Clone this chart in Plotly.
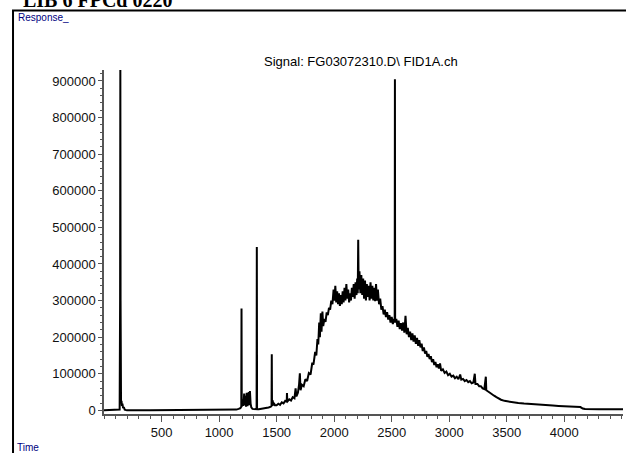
import plotly.graph_objects as go

# Retention time (x) and detector response (y)
time_pts = [
    0, 60, 120, 136, 140, 142, 144, 148, 152, 156, 160, 166, 172, 180, 200, 400, 600, 800, 1000,
    1100, 1150, 1170, 1185, 1193, 1195, 1197, 1205, 1212, 1218, 1222, 1228, 1234, 1240, 1246,
    1252, 1258, 1263, 1268, 1274, 1280, 1290, 1310, 1326, 1328, 1330, 1345, 1370, 1400, 1430,
    1450, 1456, 1458, 1460, 1466, 1470, 1476, 1485,
    1500, 1515, 1530, 1545, 1560, 1575, 1588, 1590, 1593, 1610, 1625, 1640, 1655, 1665, 1672,
    1685, 1695, 1702, 1708, 1720, 1735, 1750, 1765, 1780, 1795, 1810, 1820, 1835, 1845, 1855,
    1862, 1870, 1876, 1884, 1890, 1898, 1905, 1915, 1925, 1935, 1945, 1955, 1965, 1975, 1985,
    1995, 2003, 2010, 2018, 2026, 2034, 2042, 2050, 2058, 2066, 2074, 2082, 2090, 2098, 2106,
    2114, 2122, 2130, 2138, 2146, 2154, 2162, 2170, 2178, 2186, 2194, 2200, 2205, 2209, 2213,
    2220, 2228, 2236, 2244, 2252, 2260, 2268, 2276, 2284, 2292, 2300, 2308, 2316, 2324, 2332,
    2340, 2348, 2356, 2364, 2372, 2380, 2390, 2400, 2410, 2420, 2430, 2440, 2450, 2460, 2470,
    2480, 2490, 2500, 2510, 2520, 2526, 2528, 2530, 2540, 2550, 2560, 2570, 2580, 2590, 2600,
    2610, 2620, 2630, 2640, 2650, 2660, 2670, 2680, 2690, 2700, 2710, 2720, 2730, 2740, 2750,
    2760, 2770, 2780, 2790, 2800, 2810, 2820, 2830, 2840, 2850, 2860, 2870, 2880, 2890, 2900,
    2910, 2920, 2930, 2945, 2960, 2975, 2990, 3005, 3020, 3035, 3050, 3065, 3080, 3095, 3105,
    3120, 3135, 3150, 3165, 3180, 3195, 3210, 3222, 3228, 3245, 3260, 3275, 3290, 3305, 3318,
    3322, 3335, 3350, 3370, 3390, 3410, 3430, 3450, 3480, 3510, 3550, 3600, 3650, 3700, 3750,
    3800, 3850, 3900, 3950, 4000, 4050, 4100, 4140, 4160, 4180, 4300, 4400, 4510,
]
response = [
    0, 0, 0, 2000, 300000, 950000, 300000, 20000, 26000, 12000, 18000, 6000, 9000, 2000, 0, 0, 0, 0, 0,
    1000, 2000, 4000, 6000, 10000, 278000, 10000, 30000, 12000, 46000, 15000, 40000, 10000, 48000, 12000,
    20000, 50000, 14000, 53000, 18000, 8000, 4000, 3000, 3000, 446000, 3000, 3000, 4000, 5000, 8000,
    10000, 12000, 153000, 12000, 27000, 13000, 20000, 14000,
    14000, 18000, 15000, 22000, 19000, 26000, 24000, 47000, 24000, 30000, 27000, 36000, 33000, 60000, 38000,
    48000, 70000, 101000, 55000, 70000, 66000, 85000, 80000, 102000, 98000, 130000, 125000, 160000, 150000, 195000,
    180000, 240000, 200000, 265000, 215000, 270000, 230000, 250000, 242000, 268000, 260000, 280000, 275000, 300000, 290000,
    330000, 300000, 340000, 295000, 325000, 290000, 320000, 285000, 315000, 290000, 325000, 295000, 335000, 300000, 345000,
    305000, 330000, 295000, 320000, 300000, 335000, 310000, 345000, 305000, 350000, 315000, 360000, 320000, 466000, 330000,
    380000, 320000, 370000, 315000, 360000, 305000, 355000, 300000, 345000, 310000, 340000, 300000, 350000, 305000, 340000,
    300000, 335000, 298000, 345000, 300000, 330000, 290000, 305000, 275000, 285000, 262000, 275000, 255000, 268000, 248000,
    260000, 240000, 255000, 236000, 250000, 240000, 905000, 240000, 250000, 228000, 245000, 222000, 238000, 218000, 240000,
    212000, 258000, 208000, 225000, 200000, 215000, 192000, 210000, 188000, 205000, 182000, 198000, 176000, 192000, 172000,
    182000, 162000, 172000, 155000, 162000, 146000, 154000, 140000, 148000, 132000, 140000, 124000, 132000, 118000, 126000,
    114000, 128000, 108000, 112000, 102000, 106000, 96000, 100000, 92000, 95000, 88000, 92000, 85000, 98000, 84000,
    86000, 80000, 83000, 77000, 80000, 74000, 76000, 100000, 72000, 72000, 66000, 66000, 60000, 58000, 92000,
    55000, 52000, 48000, 44000, 40000, 36000, 32000, 29000, 26000, 24000, 22000, 20000, 18500, 17000, 16000,
    15000, 14000, 13000, 12000, 11500, 10500, 9500, 9000, 5000, 3500, 3000, 3000, 3000,
]

x_ticks = [500, 1000, 1500, 2000, 2500, 3000, 3500, 4000]
y_ticks = [0, 100000, 200000, 300000, 400000, 500000, 600000, 700000, 800000, 900000]

fig = go.Figure()
fig.add_trace(go.Scatter(
    x=time_pts, y=response, mode="lines",
    line=dict(color="black", width=2), hoverinfo="skip", showlegend=False,
))

axis_font = dict(family="Liberation Sans, Arial, sans-serif", size=13, color="#111")

fig.update_layout(
    width=626, height=453,
    margin=dict(l=104, r=3, t=70, b=39),
    paper_bgcolor="white", plot_bgcolor="white",
    xaxis=dict(
        range=[0, 4510], tickvals=x_ticks, ticktext=[str(v) for v in x_ticks],
        ticks="outside", ticklen=6, tickcolor="#555", tickwidth=1,
        minor=dict(dtick=100, tick0=0, ticks="outside", ticklen=3, tickcolor="#555"),
        showline=True, linecolor="#555", linewidth=1.5, showgrid=False, zeroline=False,
        tickfont=axis_font,
    ),
    yaxis=dict(
        range=[-10000, 930000], tickvals=y_ticks, ticktext=[str(v) for v in y_ticks],
        ticks="outside", ticklen=4, tickcolor="#555", tickwidth=1,
        minor=dict(dtick=20000, tick0=0, ticks="outside", ticklen=2, tickcolor="#555"),
        showline=True, linecolor="#555", linewidth=1.5, showgrid=False, zeroline=False,
        tickfont=axis_font,
    ),
    shapes=[dict(
        type="rect", xref="paper", yref="paper",
        x0=-0.1753, x1=1.2, y0=-0.3, y1=1.173,
        line=dict(color="black", width=2), fillcolor="rgba(0,0,0,0)", layer="below",
    )],
    annotations=[
        dict(text="Signal: FG03072310.D\\ FID1A.ch", xref="paper", yref="paper",
             x=0.495, y=1.026, xanchor="center", yanchor="middle", showarrow=False,
             font=dict(family="Liberation Sans, Arial, sans-serif", size=13, color="black")),
        dict(text="Response_", xref="paper", yref="paper",
             x=-0.1696, y=1.154, xanchor="left", yanchor="middle", showarrow=False,
             font=dict(family="Liberation Sans, Arial, sans-serif", size=10, color="#00007f")),
        dict(text="Time", xref="paper", yref="paper",
             x=-0.1715, y=-0.096, xanchor="left", yanchor="middle", showarrow=False,
             font=dict(family="Liberation Sans, Arial, sans-serif", size=10, color="#00007f")),
        dict(text="<b>LIB 6 FPCd 0220</b>", xref="paper", yref="paper",
             x=-0.16, y=1.166, xanchor="left", yanchor="bottom", showarrow=False,
             font=dict(family="Liberation Serif, serif", size=20, color="black")),
    ],
)

fig.write_html("out.html")
